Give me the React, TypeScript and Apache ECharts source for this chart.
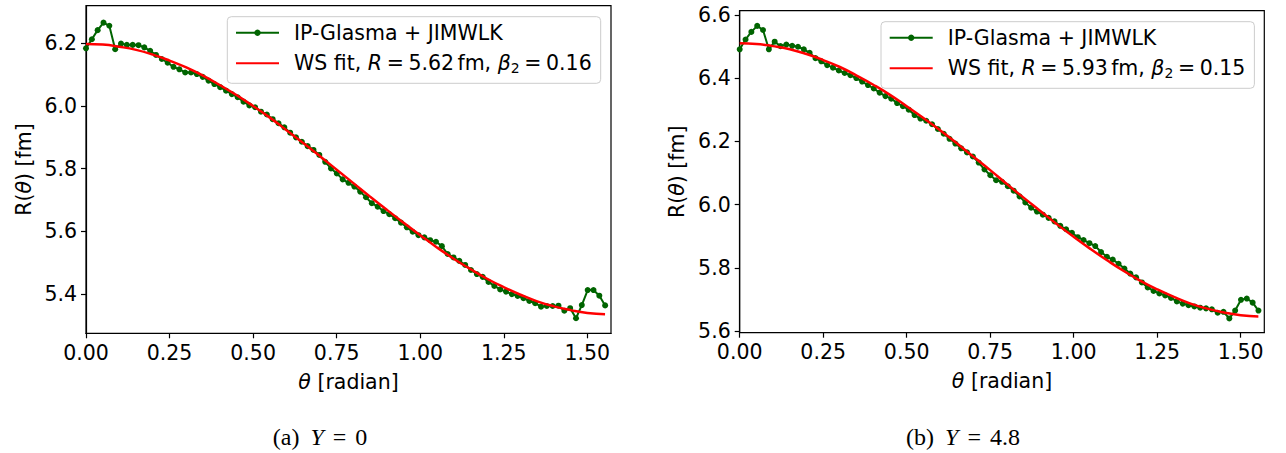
import { useEffect, useRef } from "react";
import * as echarts from "echarts";

// theta grid of the IP-Glasma + JIMWLK points (radian)
const theta = [
  0.0, 0.0175, 0.0349, 0.0524, 0.0698, 0.0873, 0.1047, 0.1222, 0.1396, 0.1571,
  0.1745, 0.192, 0.2094, 0.2269, 0.2443, 0.2618, 0.2793, 0.2967, 0.3142, 0.3316,
  0.3491, 0.3665, 0.384, 0.4014, 0.4189, 0.4363, 0.4538, 0.4712, 0.4887, 0.5061,
  0.5236, 0.5411, 0.5585, 0.576, 0.5934, 0.6109, 0.6283, 0.6458, 0.6632, 0.6807,
  0.6981, 0.7156, 0.733, 0.7505, 0.7679, 0.7854, 0.8029, 0.8203, 0.8378, 0.8552,
  0.8727, 0.8901, 0.9076, 0.925, 0.9425, 0.9599, 0.9774, 0.9948, 1.0123, 1.0297,
  1.0472, 1.0647, 1.0821, 1.0996, 1.117, 1.1345, 1.1519, 1.1694, 1.1868, 1.2043,
  1.2217, 1.2392, 1.2566, 1.2741, 1.2915, 1.309, 1.3265, 1.3439, 1.3614, 1.3788,
  1.3963, 1.4137, 1.4312, 1.4486, 1.4661, 1.4835, 1.501, 1.5184, 1.5359, 1.5533,
];

// (a) Y = 0
const glasmaA = [
  6.184, 6.213, 6.242, 6.266, 6.256, 6.181, 6.199, 6.195, 6.195, 6.194,
  6.187, 6.176, 6.163, 6.15, 6.138, 6.125, 6.117, 6.107, 6.107, 6.102,
  6.093, 6.081, 6.07, 6.06, 6.049, 6.038, 6.028, 6.014, 6.002, 5.996,
  5.982, 5.973, 5.958, 5.945, 5.932, 5.915, 5.9, 5.886, 5.872, 5.86,
  5.844, 5.822, 5.801, 5.785, 5.766, 5.755, 5.743, 5.727, 5.709, 5.69,
  5.679, 5.665, 5.655, 5.642, 5.628, 5.613, 5.599, 5.588, 5.581, 5.572,
  5.567, 5.553, 5.528, 5.517, 5.506, 5.493, 5.477, 5.464, 5.455, 5.439,
  5.426, 5.415, 5.408, 5.4, 5.394, 5.387, 5.378, 5.371, 5.36, 5.362,
  5.362, 5.363, 5.347, 5.355, 5.323, 5.365, 5.413, 5.413, 5.395, 5.364,
];

// (b) Y = 4.8
const glasmaB = [
  6.491, 6.522, 6.546, 6.565, 6.552, 6.491, 6.515, 6.501, 6.506, 6.502,
  6.499, 6.491, 6.48, 6.463, 6.453, 6.441, 6.433, 6.424, 6.416, 6.409,
  6.4, 6.389, 6.378, 6.367, 6.354, 6.343, 6.335, 6.321, 6.311, 6.3,
  6.283, 6.272, 6.265, 6.254, 6.239, 6.224, 6.208, 6.193, 6.178, 6.165,
  6.152, 6.133, 6.111, 6.093, 6.077, 6.072, 6.058, 6.044, 6.026, 6.007,
  5.99, 5.978, 5.968, 5.958, 5.947, 5.933, 5.922, 5.911, 5.897, 5.888,
  5.878, 5.869, 5.85, 5.835, 5.826, 5.813, 5.798, 5.782, 5.77, 5.754,
  5.738, 5.727, 5.719, 5.713, 5.705, 5.694, 5.687, 5.682, 5.678, 5.674,
  5.672, 5.669, 5.658, 5.661, 5.64, 5.665, 5.699, 5.703, 5.69, 5.665,
];

// WS fit curves, read at these angles
const fitTheta = [
  0.0, 0.05, 0.1, 0.15, 0.2, 0.25, 0.3, 0.35, 0.4, 0.45, 0.5, 0.55, 0.6, 0.65,
  0.7, 0.75, 0.8, 0.85, 0.9, 0.95, 1.0, 1.05, 1.1, 1.15, 1.2, 1.25, 1.3, 1.35,
  1.4, 1.45, 1.5, 1.553,
];
const fitA = [
  6.198, 6.196, 6.189, 6.179, 6.164, 6.145, 6.123, 6.097, 6.067, 6.035, 6.0,
  5.963, 5.923, 5.882, 5.84, 5.797, 5.754, 5.711, 5.669, 5.628, 5.588, 5.549,
  5.513, 5.48, 5.449, 5.422, 5.398, 5.377, 5.361, 5.349, 5.34, 5.336,
];
const fitB = [
  6.51, 6.508, 6.501, 6.491, 6.476, 6.457, 6.435, 6.408, 6.379, 6.347, 6.311,
  6.274, 6.235, 6.194, 6.151, 6.109, 6.065, 6.022, 5.98, 5.938, 5.898, 5.86,
  5.824, 5.79, 5.759, 5.732, 5.708, 5.687, 5.671, 5.659, 5.65, 5.646,
];

const xTicks = [0, 0.25, 0.5, 0.75, 1.0, 1.25, 1.5];
const yTicksA = [5.4, 5.6, 5.8, 6.0, 6.2];
const yTicksB = [5.6, 5.8, 6.0, 6.2, 6.4, 6.6];

const nameData = "IP-Glasma + JIMWLK";
const nameFitA = "WS fit, R = 5.62 fm, β2 = 0.16";
const nameFitB = "WS fit, R = 5.93 fm, β2 = 0.15";
const fitLabel: Record<string, [string, string]> = {
  [nameFitA]: ["5.62", "0.16"],
  [nameFitB]: ["5.93", "0.15"],
};
const captionA = ["(a) ", "Y", "0"];
const captionB = ["(b) ", "Y", "4.8"];

const FONT = "DejaVu Sans";
const FS = 20.5;
const GREEN = "#006400";
const RED = "#ff0000";

function legendFormatter(name: string) {
  if (fitLabel[name]) {
    const [r, b] = fitLabel[name];
    return `{p|}{n|WS fit, }{i|R}{e|=}{n|${r}}{t|}{n|fm, }{i|β}{s|2}{e|=}{n|${b}}`;
  }
  return `{p|}{n|${name}}`;
}

const base = { fontFamily: FONT, fontSize: FS, color: "#000", lineHeight: 24 };
const rich = {
  p: { width: 10 },
  n: { ...base },
  i: { ...base, fontStyle: "italic" },
  e: { ...base, padding: [0, 4.6, 0, 4.6] },
  t: { width: 3.4 },
  s: { fontFamily: FONT, fontSize: 14, color: "#000", lineHeight: 14, verticalAlign: "bottom" },
};

function makeXAxis(gridIndex: number) {
  return {
    type: "value",
    gridIndex,
    min: 0,
    max: 1.5708,
    name: "{i|θ} [radian]",
    nameLocation: "middle",
    nameGap: 38,
    nameTextStyle: {
      fontFamily: FONT,
      fontSize: FS,
      color: "#000",
      rich: { i: { fontFamily: FONT, fontSize: FS, fontStyle: "italic", color: "#000" } },
    },
    axisLine: { show: true, lineStyle: { color: "#000", width: 1.2 } },
    axisTick: { show: true, length: 5, inside: false, customValues: xTicks, lineStyle: { color: "#000", width: 1.2 } },
    axisLabel: {
      show: true,
      customValues: xTicks,
      margin: 9,
      fontFamily: FONT,
      fontSize: FS,
      color: "#000",
      formatter: (v: number) => v.toFixed(2),
    },
    splitLine: { show: false },
  };
}

function makeYAxis(gridIndex: number, min: number, max: number, ticks: number[]) {
  return {
    type: "value",
    gridIndex,
    min,
    max,
    name: "R({i|θ}) [fm]",
    nameLocation: "middle",
    nameGap: 52,
    nameTextStyle: {
      fontFamily: FONT,
      fontSize: FS,
      color: "#000",
      rich: { i: { fontFamily: FONT, fontSize: FS, fontStyle: "italic", color: "#000" } },
    },
    axisLine: { show: true, lineStyle: { color: "#000", width: 1.2 } },
    axisTick: { show: true, length: 5, inside: false, customValues: ticks, lineStyle: { color: "#000", width: 1.2 } },
    axisLabel: {
      show: true,
      customValues: ticks,
      margin: 9,
      fontFamily: FONT,
      fontSize: FS,
      color: "#000",
      formatter: (v: number) => v.toFixed(1),
    },
    splitLine: { show: false },
  };
}

function makeLegend(fitName: string, left: number, top: number) {
  return {
    data: [nameData, { name: fitName, itemStyle: { opacity: 0 } }],
    orient: "vertical",
    left,
    top,
    itemWidth: 43,
    itemHeight: 8,
    itemGap: 6.6,
    padding: [4, 9, 8, 7.7],
    backgroundColor: "rgba(255,255,255,0.8)",
    borderColor: "#cccccc",
    borderWidth: 1,
    borderRadius: 4,
    selectedMode: false,
    formatter: legendFormatter,
    textStyle: { fontFamily: FONT, fontSize: FS, color: "#000", lineHeight: 24, rich },
  };
}

function dataSeries(xi: number, values: number[]) {
  return {
    name: nameData,
    type: "line",
    xAxisIndex: xi,
    yAxisIndex: xi,
    data: theta.map((t, i) => [t, values[i]]),
    symbol: "circle",
    symbolSize: 6,
    showSymbol: true,
    lineStyle: { color: GREEN, width: 2 },
    itemStyle: { color: GREEN },
    z: 2,
  };
}

function fitSeries(xi: number, name: string, values: number[]) {
  return {
    name,
    type: "line",
    xAxisIndex: xi,
    yAxisIndex: xi,
    data: fitTheta.map((t, i) => [t, values[i]]),
    symbol: "none",
    smooth: true,
    lineStyle: { color: RED, width: 2.5 },
    itemStyle: { color: RED },
    z: 3,
  };
}

const CFS = 24;
const captionRich = {
  n: { fontFamily: "Liberation Serif", fontSize: CFS, color: "#000" },
  i: { fontFamily: "Liberation Serif", fontSize: CFS, color: "#000", fontStyle: "italic", padding: [0, 0, 0, 5] },
  e: { fontFamily: "Liberation Serif", fontSize: CFS, color: "#000", padding: [0, 9, 0, 9] },
};
const caption = (c: string[]) => `{n|${c[0]}}{i|${c[1]}}{e|=}{n|${c[2]}}`;

export default function App() {
  const ref = useRef<HTMLDivElement>(null);
  useEffect(() => {
    if (!ref.current) return;
    const chart = echarts.init(ref.current, null, { renderer: "svg" });
    chart.setOption({
      animation: false,
      backgroundColor: "#ffffff",
      textStyle: { fontFamily: FONT },
      grid: [
        { left: 86, top: 5.7, width: 525, height: 327.6, show: true, borderColor: "#000", borderWidth: 1.2, backgroundColor: "transparent" },
        { left: 739.7, top: 10.7, width: 524.6, height: 322, show: true, borderColor: "#000", borderWidth: 1.2, backgroundColor: "transparent" },
      ],
      xAxis: [makeXAxis(0), makeXAxis(1)],
      yAxis: [makeYAxis(0, 5.275, 6.32, yTicksA), makeYAxis(1, 5.595, 6.613, yTicksB)],
      legend: [makeLegend(nameFitA, 227.3, 16.7), makeLegend(nameFitB, 881, 21.7)],
      series: [
        dataSeries(0, glasmaA),
        fitSeries(0, nameFitA, fitA),
        dataSeries(1, glasmaB),
        fitSeries(1, nameFitB, fitB),
      ],
      graphic: [
        {
          type: "text",
          x: 320,
          y: 437,
          style: { text: caption(captionA), rich: captionRich, align: "center", verticalAlign: "middle" },
        },
        {
          type: "text",
          x: 963,
          y: 437,
          style: { text: caption(captionB), rich: captionRich, align: "center", verticalAlign: "middle" },
        },
      ],
    });
    return () => chart.dispose();
  }, []);
  return <div ref={ref} style={{ position: "absolute", left: 0, top: 0, width: 1286, height: 453 }} />;
}
